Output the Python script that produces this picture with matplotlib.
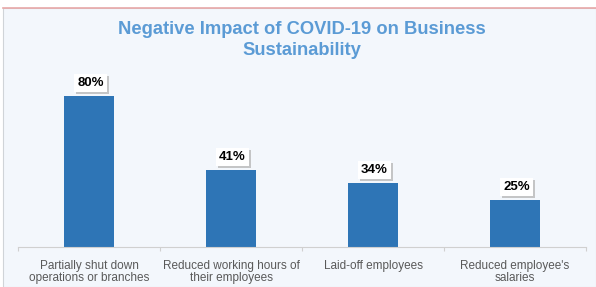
import matplotlib.pyplot as plt
from matplotlib.patches import Rectangle
from matplotlib import patheffects

categories = ['Partially shut down\noperations or branches', 'Reduced working hours of\ntheir employees',
              'Laid-off employees', "Reduced employee's\nsalaries"]
values = [80, 41, 34, 25]
labels = ['80%', '41%', '34%', '25%']

plt.rcParams['font.family'] = ['Liberation Sans', 'DejaVu Sans']

fig = plt.figure(figsize=(5.96, 2.87), dpi=100)
fig.patch.set_facecolor('white')

# panel background with frame
frame = Rectangle((3 / 596, 0), 1 - 3 / 596, 1 - 8 / 287, transform=fig.transFigure,
                  facecolor='#f3f7fc', edgecolor='#d0d4d8', linewidth=0.8, zorder=-5)
fig.patches.append(frame)
fig.add_artist(plt.Line2D([3 / 596, 1], [1 - 8 / 287, 1 - 8 / 287], transform=fig.transFigure,
                          color='#e8a8a8', linewidth=1.2, zorder=-4))

ax = fig.add_axes([18 / 596, 40 / 287, 568 / 596, 189 / 287])
ax.set_facecolor('none')
x = range(len(values))
ax.bar(x, values, width=0.35, color='#2e75b6', zorder=2)
ax.set_xlim(-0.5, 3.5)
ax.set_ylim(0, 100)

for i, (v, lab) in enumerate(zip(values, labels)):
    t = ax.annotate(lab, (i, v), xytext=(1, 9), textcoords='offset points', ha='center', va='center',
                    fontsize=9.5, fontweight='bold', color='black',
                    bbox=dict(boxstyle='square,pad=0.22', fc='white', ec='none'))
    t.get_bbox_patch().set_path_effects([
        patheffects.SimplePatchShadow(offset=(1.5, -1.5), shadow_rgbFace='#b0b0b0', alpha=0.7),
        patheffects.Normal()])

ax.set_xticks([-0.5, 0.5, 1.5, 2.5, 3.5])
ax.set_xticklabels([])
ax.set_xticks(list(x), minor=True)
ax.set_xticklabels(categories, minor=True, fontsize=8.5, color='#595959', linespacing=1.1)
ax.tick_params(axis='x', which='major', length=3, color='#d0d0d0', direction='out')
ax.tick_params(axis='x', which='minor', length=0, pad=9)
ax.set_yticks([])
for s in ['top', 'right', 'left']:
    ax.spines[s].set_visible(False)
ax.spines['bottom'].set_color('#d0d0d0')

fig.text(302 / 596, 1 - 40 / 287, 'Negative Impact of COVID-19 on Business\nSustainability',
         ha='center', va='center', fontsize=13.2, fontweight='bold', color='#5b9bd5', linespacing=1.3)

plt.savefig('out.png', dpi=100)
